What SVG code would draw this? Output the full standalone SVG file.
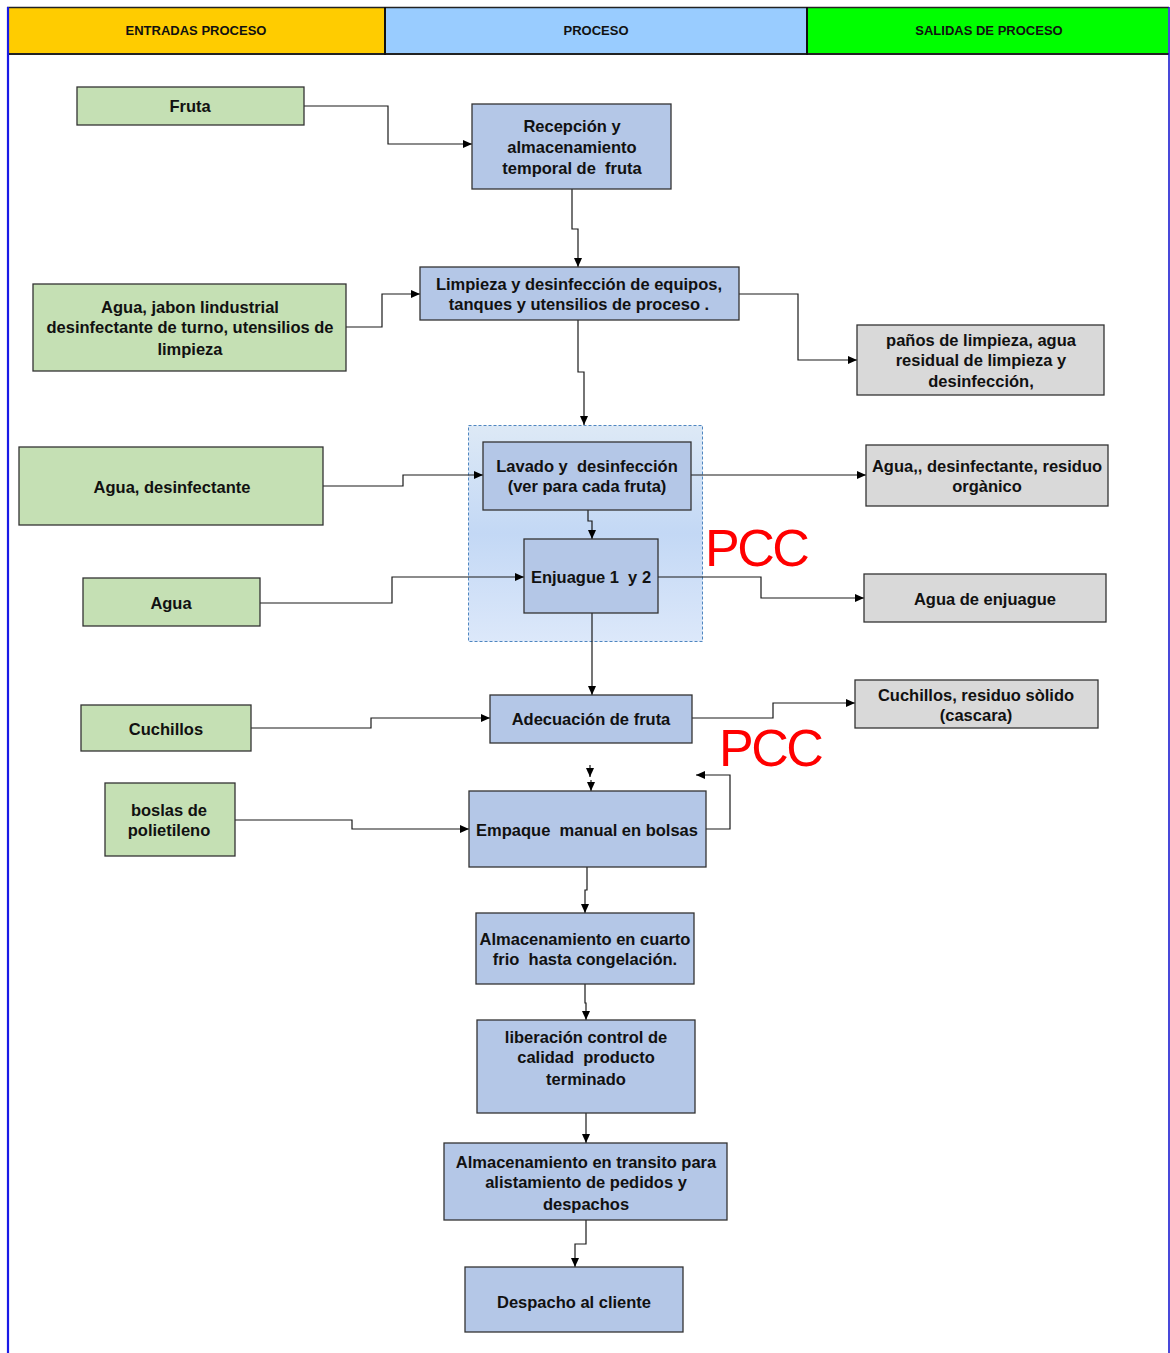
<svg xmlns="http://www.w3.org/2000/svg" width="1170" height="1353" viewBox="0 0 1170 1353">
  <defs>
    <style>
      .hdr { font-family: "Liberation Sans", Arial, sans-serif; font-weight: bold; font-size: 13px; fill: #111; text-anchor: middle; }
      .lbl { font-family: "Liberation Sans", Arial, sans-serif; font-weight: bold; font-size: 16.5px; fill: #111; text-anchor: middle; white-space: pre; }
      .pcc { font-family: "Liberation Sans", Arial, sans-serif; font-size: 52px; letter-spacing: -2.5px; fill: #ff0000; }
      .in { fill: #c5e0b4; stroke: #333; stroke-width: 1.3; }
      .proc { fill: #b4c7e7; stroke: #333; stroke-width: 1.3; }
      .out { fill: #d9d9d9; stroke: #333; stroke-width: 1.3; }
      .conn path { fill: none; stroke: #1a1a1a; stroke-width: 1.2; marker-end: url(#arrow); }
    </style>
    <marker id="arrow" markerUnits="userSpaceOnUse" markerWidth="10" markerHeight="10" viewBox="0 0 10 10" refX="9" refY="5" orient="auto">
      <path d="M0,1 L9,5 L0,9 Z" fill="#000"/>
    </marker>
    <linearGradient id="pccZone" x1="0" y1="0" x2="0" y2="1">
      <stop offset="0" stop-color="#dde9f6"/>
      <stop offset="0.5" stop-color="#c3d8f5"/>
      <stop offset="1" stop-color="#dce8fa"/>
    </linearGradient>
  </defs>

  <rect x="0" y="0" width="1170" height="1353" fill="#ffffff"/>

  <!-- column headers -->
  <g id="header">
    <rect x="8" y="7" width="377" height="47" fill="#ffcc00"/>
    <rect x="385" y="7" width="422" height="47" fill="#99ccff"/>
    <rect x="807" y="7" width="361" height="47" fill="#00ff00"/>
    <line x1="7" y1="7.5" x2="1169" y2="7.5" stroke="#222" stroke-width="1.5"/>
    <line x1="7" y1="54" x2="1169" y2="54" stroke="#222" stroke-width="2"/>
    <line x1="385" y1="7" x2="385" y2="55" stroke="#111" stroke-width="2"/>
    <line x1="807" y1="7" x2="807" y2="55" stroke="#111" stroke-width="2"/>
    <text class="hdr" x="196" y="35">ENTRADAS PROCESO</text>
    <text class="hdr" x="596" y="35">PROCESO</text>
    <text class="hdr" x="989" y="35">SALIDAS DE PROCESO</text>
  </g>

  <!-- page frame -->
  <line x1="8" y1="7" x2="8" y2="1353" stroke="#1a1ae6" stroke-width="2.2"/>
  <line x1="1169" y1="7" x2="1169" y2="1353" stroke="#1a1ad0" stroke-width="1.6"/>

  <!-- critical control point zone -->
  <rect id="zona-pcc" x="468.5" y="425.5" width="234" height="216" fill="url(#pccZone)" stroke="#4f86c0" stroke-width="1" stroke-dasharray="3,2"/>

  <!-- connectors -->
  <g id="connectors" class="conn">
    <path d="M304,106 H388 V144 H472"/>
    <path d="M572,189 V229 H578 V267"/>
    <path d="M346,327 H382 V294 H420"/>
    <path d="M739,294 H798 V360 H857"/>
    <path d="M578,320 V372 H584 V425"/>
    <path d="M323,486 H403 V475 H483"/>
    <path d="M691,475 H866"/>
    <path d="M588,510 V521 H592 V539"/>
    <path d="M260,603 H392 V577 H524"/>
    <path d="M658,577 H761 V598 H864"/>
    <path d="M592,613 V695"/>
    <path d="M251,728 H371 V718 H490"/>
    <path d="M692,718 H773 V703 H855"/>
    <path d="M590,765 V777"/>
    <path d="M591,780 V791"/>
    <path d="M706,829 H730 V775 H696"/>
    <path d="M235,820 H352 V829 H469"/>
    <path d="M587,867 V890 H585 V913"/>
    <path d="M585,984 V1003 H586 V1020"/>
    <path d="M586,1113 V1143"/>
    <path d="M586,1220 V1244 H575 V1267"/>
  </g>

  <!-- inputs -->
  <g id="in-fruta">
    <rect class="in" x="77" y="87" width="227" height="38"/>
    <text class="lbl" x="190" y="112">Fruta</text>
  </g>
  <g id="in-limpieza">
    <rect class="in" x="33" y="284" width="313" height="87"/>
    <text class="lbl" x="190" y="313">Agua, jabon lindustrial</text>
    <text class="lbl" x="190" y="333">desinfectante de turno, utensilios de</text>
    <text class="lbl" x="190" y="355">limpieza</text>
  </g>
  <g id="in-lavado">
    <rect class="in" x="19" y="447" width="304" height="78"/>
    <text class="lbl" x="172" y="493">Agua, desinfectante</text>
  </g>
  <g id="in-agua">
    <rect class="in" x="83" y="578" width="177" height="48"/>
    <text class="lbl" x="171" y="609">Agua</text>
  </g>
  <g id="in-cuchillos">
    <rect class="in" x="81" y="705" width="170" height="46"/>
    <text class="lbl" x="166" y="735">Cuchillos</text>
  </g>
  <g id="in-bolsas">
    <rect class="in" x="105" y="783" width="130" height="73"/>
    <text class="lbl" x="169" y="816">boslas de</text>
    <text class="lbl" x="169" y="836">polietileno</text>
  </g>

  <!-- process steps -->
  <g id="recepcion">
    <rect class="proc" x="472" y="104" width="199" height="85"/>
    <text class="lbl" x="572" y="132">Recepción y</text>
    <text class="lbl" x="572" y="153">almacenamiento</text>
    <text class="lbl" x="572" y="174">temporal de  fruta</text>
  </g>
  <g id="limpieza">
    <rect class="proc" x="420" y="267" width="319" height="53"/>
    <text class="lbl" x="579" y="290">Limpieza y desinfección de equipos,</text>
    <text class="lbl" x="579" y="310">tanques y utensilios de proceso .</text>
  </g>
  <g id="lavado">
    <rect class="proc" x="483" y="442" width="208" height="68"/>
    <text class="lbl" x="587" y="472">Lavado y  desinfección</text>
    <text class="lbl" x="587" y="492">(ver para cada fruta)</text>
  </g>
  <g id="enjuague">
    <rect class="proc" x="524" y="539" width="134" height="74"/>
    <text class="lbl" x="591" y="583">Enjuague 1  y 2</text>
  </g>
  <g id="adecuacion">
    <rect class="proc" x="490" y="695" width="202" height="48"/>
    <text class="lbl" x="591" y="725">Adecuación de fruta</text>
  </g>
  <g id="empaque">
    <rect class="proc" x="469" y="791" width="237" height="76"/>
    <text class="lbl" x="587" y="836">Empaque  manual en bolsas</text>
  </g>
  <g id="cuarto-frio">
    <rect class="proc" x="476" y="913" width="218" height="71"/>
    <text class="lbl" x="585" y="945">Almacenamiento en cuarto</text>
    <text class="lbl" x="585" y="965">frio  hasta congelación.</text>
  </g>
  <g id="liberacion">
    <rect class="proc" x="477" y="1020" width="218" height="93"/>
    <text class="lbl" x="586" y="1043">liberación control de</text>
    <text class="lbl" x="586" y="1063">calidad  producto</text>
    <text class="lbl" x="586" y="1085">terminado</text>
  </g>
  <g id="transito">
    <rect class="proc" x="444" y="1143" width="283" height="77"/>
    <text class="lbl" x="586" y="1168">Almacenamiento en transito para</text>
    <text class="lbl" x="586" y="1188">alistamiento de pedidos y</text>
    <text class="lbl" x="586" y="1210">despachos</text>
  </g>
  <g id="despacho">
    <rect class="proc" x="465" y="1267" width="218" height="65"/>
    <text class="lbl" x="574" y="1308">Despacho al cliente</text>
  </g>

  <!-- outputs -->
  <g id="out-limpieza">
    <rect class="out" x="857" y="325" width="247" height="70"/>
    <text class="lbl" x="981" y="346">paños de limpieza, agua</text>
    <text class="lbl" x="981" y="366">residual de limpieza y</text>
    <text class="lbl" x="981" y="387">desinfección,</text>
  </g>
  <g id="out-lavado">
    <rect class="out" x="866" y="445" width="242" height="61"/>
    <text class="lbl" x="987" y="472">Agua,, desinfectante, residuo</text>
    <text class="lbl" x="987" y="492">orgànico</text>
  </g>
  <g id="out-enjuague">
    <rect class="out" x="864" y="574" width="242" height="48"/>
    <text class="lbl" x="985" y="605">Agua de enjuague</text>
  </g>
  <g id="out-adecuacion">
    <rect class="out" x="855" y="680" width="243" height="48"/>
    <text class="lbl" x="976" y="701">Cuchillos, residuo sòlido</text>
    <text class="lbl" x="976" y="721">(cascara)</text>
  </g>

  <!-- critical control point marks -->
  <text class="pcc" x="705" y="566">PCC</text>
  <text class="pcc" x="719" y="766">PCC</text>
</svg>
